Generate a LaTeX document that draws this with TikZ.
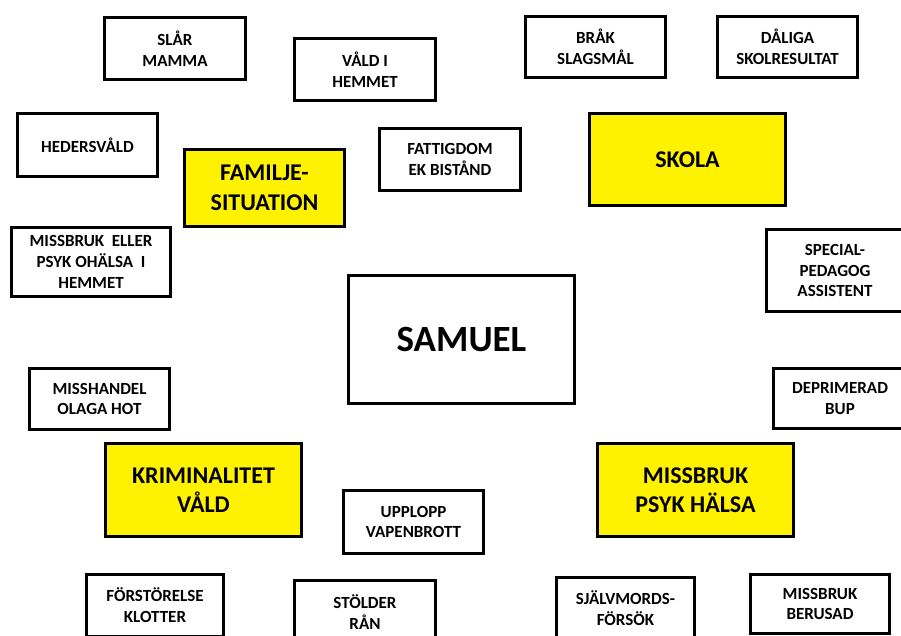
\documentclass[tikz,border=0pt]{standalone}
\usepackage{fontspec}
\setmainfont{Carlito}
\tikzset{
  box/.style={draw=black, line width=3.2pt, fill=white, align=center, inner sep=0pt,
    font=\bfseries\fontsize{17}{20.8}\selectfont, text=black},
  cat/.style={box, fill=yellow, font=\bfseries\fontsize{24}{29.5}\selectfont},
  hub/.style={box, font=\bfseries\fontsize{37}{44}\selectfont}
}
\begin{document}
\begin{tikzpicture}[x=1pt,y=-1pt]
\useasboundingbox (0,0) rectangle (901,636);
\clip (0,0) rectangle (901,636);
\fill[white] (0,0) rectangle (901,636);
% hub
\node[hub, minimum width=226pt, minimum height=128pt] (samuel) at (461.5,339.5) {SAMUEL};
% categories
\node[cat, minimum width=160pt, minimum height=77pt] (familj) at (264.5,188) {FAMILJE-\\SITUATION};
\node[cat, minimum width=196pt, minimum height=92pt] (skola) at (687.5,159.5) {SKOLA};
\node[cat, minimum width=196pt, minimum height=93pt] (krim) at (203.5,490) {KRIMINALITET\\VÅLD};
\node[cat, minimum width=196pt, minimum height=93pt] (missbruk) at (695.5,490) {MISSBRUK\\PSYK HÄLSA};
% family items
\node[box, minimum width=141pt, minimum height=62pt] (slar) at (175,48.5) {SLÅR\\MAMMA};
\node[box, minimum width=141pt, minimum height=62pt] (vald) at (365,69.5) {VÅLD I\\HEMMET};
\node[box, minimum width=140pt, minimum height=63pt] (heder) at (87.5,145) {HEDERSVÅLD};
\node[box, minimum width=141pt, minimum height=62pt] (fattig) at (450,159.5) {FATTIGDOM\\EK BISTÅND};
\node[box, minimum width=159pt, minimum height=69pt] (psyk) at (91,262) {MISSBRUK\ \ ELLER\\PSYK OHÄLSA\ \ I\\HEMMET};
% school items
\node[box, minimum width=140pt, minimum height=61pt] (brak) at (595.5,47) {BRÅK\\SLAGSMÅL};
\node[box, minimum width=140pt, minimum height=61pt] (daliga) at (787.5,47) {DÅLIGA\\SKOLRESULTAT};
\node[box, minimum width=137pt, minimum height=82pt] (special) at (835,270.5) {SPECIAL-\\PEDAGOG\\ASSISTENT};
% health items
\node[box, minimum width=133pt, minimum height=60pt] (depr) at (840,398.5) {DEPRIMERAD\\BUP};
\node[box, minimum width=138pt, minimum height=62pt] (sjalv) at (625.5,608.5) {SJÄLVMORDS-\\FÖRSÖK};
\node[box, minimum width=139pt, minimum height=59pt] (berus) at (820,604) {MISSBRUK\\BERUSAD};
% crime items
\node[box, minimum width=140pt, minimum height=61pt] (misshandel) at (99.5,399) {MISSHANDEL\\OLAGA HOT};
\node[box, minimum width=140pt, minimum height=63pt] (upplopp) at (413.5,522) {UPPLOPP\\VAPENBROTT};
\node[box, minimum width=137pt, minimum height=62pt] (forstor) at (155,605.5) {FÖRSTÖRELSE\\KLOTTER};
\node[box, minimum width=141pt, minimum height=63pt] (stold) at (365,612) {STÖLDER\\RÅN};
\end{tikzpicture}
\end{document}
